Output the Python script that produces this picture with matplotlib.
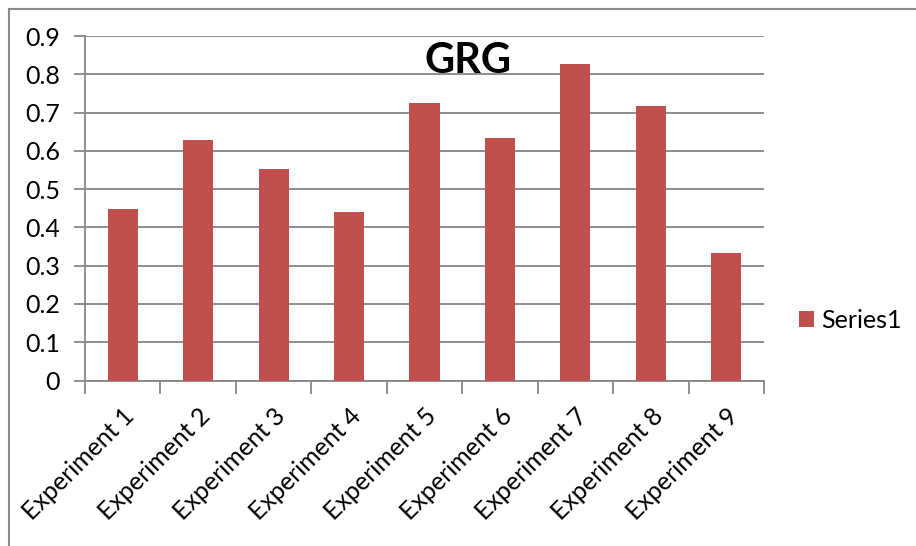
import matplotlib
matplotlib.use("Agg")
import matplotlib.pyplot as plt
from matplotlib.lines import Line2D

categories = ["Experiment 1", "Experiment 2", "Experiment 3", "Experiment 4", "Experiment 5",
              "Experiment 6", "Experiment 7", "Experiment 8", "Experiment 9"]
values = [0.449, 0.629, 0.553, 0.441, 0.724, 0.634, 0.828, 0.716, 0.333]
yticks = [0, 0.1, 0.2, 0.3, 0.4, 0.5, 0.6, 0.7, 0.8, 0.9]
ytick_labels = ["0", "0.1", "0.2", "0.3", "0.4", "0.5", "0.6", "0.7", "0.8", "0.9"]
series_name = "Series1"
title = "GRG"

plt.rcParams['font.family'] = ['Lato', 'DejaVu Sans']

W, H = 916, 546
fig = plt.figure(figsize=(W / 100, H / 100), dpi=100)
ax = fig.add_axes([85 / W, 1 - 380.5 / H, (764 - 85) / W, (380.5 - 36) / H])

grid_c = "#868686"
bar_c = "#C0504D"

x = list(range(len(categories)))
ax.bar(x, values, width=0.4, color=bar_c, zorder=3, label=series_name)
ax.set_xlim(-0.5, len(categories) - 0.5)
ax.set_ylim(0, 0.9)
ax.set_yticks(yticks)
ax.set_yticklabels(ytick_labels, fontsize=18)
ax.yaxis.grid(True, color=grid_c, linewidth=1.3, zorder=0)
ax.set_axisbelow(True)

ax.set_xticks(x)
ax.set_xticklabels(categories, rotation=45, ha="right", rotation_mode="anchor", fontsize=18)
ax.tick_params(axis="x", length=0, pad=17)
ax.set_xticks([i - 0.5 for i in range(len(categories) + 1)], minor=True)
ax.tick_params(axis="x", which="minor", length=9, width=1.3, color=grid_c)
ax.tick_params(axis="y", length=8, width=1.3, color=grid_c, pad=10)

for s in ["top", "right"]:
    ax.spines[s].set_visible(False)
for s in ["left", "bottom"]:
    ax.spines[s].set_color(grid_c)
    ax.spines[s].set_linewidth(1.3)

fig.text(468 / W, 1 - 61 / H, title, fontsize=30, fontweight="bold", ha="center", va="center")

leg = ax.legend(loc="center left", bbox_to_anchor=(799 / W, 1 - 320 / H), bbox_transform=fig.transFigure,
                frameon=False, fontsize=18, handlelength=0.6, handleheight=0.6, handletextpad=0.3,
                borderaxespad=0, borderpad=0)

# chart frame (top and left edges visible)
fig.add_artist(Line2D([8.5 / W, 1], [1 - 8.5 / H, 1 - 8.5 / H], color="#8a8a8a", linewidth=1.5, transform=fig.transFigure))
fig.add_artist(Line2D([8.5 / W, 8.5 / W], [0, 1 - 8.5 / H], color="#8a8a8a", linewidth=1.5, transform=fig.transFigure))

fig.savefig("out.png", dpi=100, facecolor="white")
